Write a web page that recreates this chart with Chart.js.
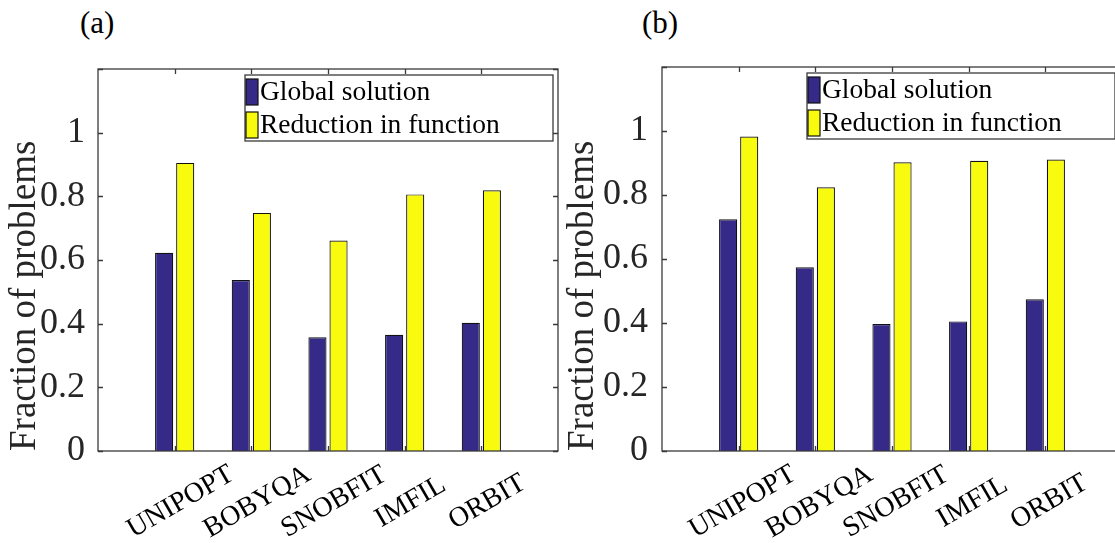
<!DOCTYPE html>
<html lang="en">
<head>
<meta charset="UTF-8">
<title>Fraction of problems</title>
<script src="https://cdn.jsdelivr.net/npm/chart.js"></script>
<style>
  html, body { margin: 0; padding: 0; background: #fff; }
  body { width: 1115px; height: 543px; overflow: hidden; position: relative; }
  .panel { position: absolute; top: 0; }
  .tag { position: absolute; top: 5px; font: 31px "Liberation Serif", serif; color: #000; }
</style>
</head>
<body>
<div class="tag" style="left:80px;">(a)</div>
<div class="tag" style="left:642px;">(b)</div>
<div class="panel" style="left:0px;"><canvas id="chartA" width="560" height="543"></canvas></div>
<div class="panel" style="left:560px;"><canvas id="chartB" width="564" height="543"></canvas></div>

<script>
// data
const categories = ['UNIPOPT', 'BOBYQA', 'SNOBFIT', 'IMFIL', 'ORBIT'];
const seriesNames = ['Global solution', 'Reduction in function'];
const globalA = [0.623, 0.537, 0.357, 0.365, 0.403];
const reductionA = [0.905, 0.748, 0.661, 0.806, 0.819];
const globalB = [0.724, 0.574, 0.397, 0.405, 0.474];
const reductionB = [0.983, 0.824, 0.902, 0.907, 0.911];
const yTicks = [0, 0.2, 0.4, 0.6, 0.8, 1, 1.2];

const serif = '"Liberation Serif", "Times New Roman", serif';
const blue = '#352A87';
const yellow = '#F9FB0E';
const axisColor = '#3a3a3a';

// empty slot on each side so bars sit at 1..5 on a 0..6 axis (like MATLAB)
const labels = [''].concat(categories, ['']);
const pad = arr => [null].concat(arr, [null]);

function framePlugin(cfg) {
    return {
        id: 'frame',
        afterDatasetsDraw(chart) {
            const { ctx, chartArea: a, scales } = chart;
            ctx.save();
            ctx.strokeStyle = axisColor;
            ctx.lineWidth = 1.3;
            ctx.strokeRect(a.left, a.top, a.right - a.left, a.bottom - a.top);
            ctx.beginPath();
            yTicks.forEach(v => {
                const y = Math.round(scales.y.getPixelForValue(v)) + 0.5;
                ctx.moveTo(a.left, y); ctx.lineTo(a.left + 5, y);
                ctx.moveTo(a.right, y); ctx.lineTo(a.right - 5, y);
            });
            categories.forEach((c, i) => {
                const x = Math.round(scales.x.getPixelForValue(i + 1)) + 0.5;
                ctx.moveTo(x, a.top); ctx.lineTo(x, a.top + 5);
                ctx.moveTo(x, a.bottom); ctx.lineTo(x, a.bottom - 5);
            });
            ctx.stroke();

            // rotated category names
            ctx.fillStyle = '#000';
            ctx.font = '28px ' + serif;
            ctx.textAlign = 'center';
            ctx.textBaseline = 'middle';
            categories.forEach((c, i) => {
                const x = scales.x.getPixelForValue(i + 1) + cfg.labelShift;
                ctx.save();
                ctx.translate(x, a.bottom + 51);
                ctx.rotate(-30 * Math.PI / 180);
                ctx.fillText(c, 0, 0);
                ctx.restore();
            });

            // legend box inside the axes
            const lx = a.left + cfg.legendLeft, ly = a.top + 6;
            const lw = 308, lh = 66;
            ctx.fillStyle = '#fff';
            ctx.fillRect(lx, ly, lw, lh);
            ctx.strokeStyle = axisColor;
            ctx.lineWidth = 1.3;
            ctx.strokeRect(lx, ly, lw, lh);
            const colors = [blue, yellow];
            ctx.font = '27.5px ' + serif;
            ctx.textAlign = 'left';
            seriesNames.forEach((name, i) => {
                const sy = ly + 4 + i * 33;
                ctx.fillStyle = colors[i];
                ctx.fillRect(lx + 1, sy, 12, 26);
                ctx.strokeStyle = '#111';
                ctx.lineWidth = 1.2;
                ctx.strokeRect(lx + 1, sy, 12, 26);
                ctx.fillStyle = '#000';
                ctx.fillText(name, lx + 15, sy + 14);
            });
            ctx.restore();
        }
    };
}

function makePanel(id, globalVals, reductionVals, cfg) {
    const ctx = document.getElementById(id).getContext('2d');
    return new Chart(ctx, {
        type: 'bar',
        data: {
            labels: labels,
            datasets: [
                { label: seriesNames[0], data: pad(globalVals), backgroundColor: blue,
                  borderColor: '#111', borderWidth: 1.2 },
                { label: seriesNames[1], data: pad(reductionVals), backgroundColor: yellow,
                  borderColor: '#111', borderWidth: 1.2 }
            ]
        },
        options: {
            responsive: false,
            animation: false,
            devicePixelRatio: 1,
            layout: { padding: { top: cfg.top, right: 2, left: 0, bottom: 0 } },
            datasets: { bar: { categoryPercentage: 0.55, barPercentage: 0.86 } },
            plugins: { legend: { display: false }, tooltip: { enabled: false } },
            scales: {
                x: {
                    type: 'category',
                    offset: false,
                    grid: { display: false, drawTicks: false },
                    border: { display: false },
                    ticks: { display: false },
                    afterFit: s => { s.height = 543 - cfg.bottom; }
                },
                y: {
                    min: 0,
                    max: 1.2,
                    grid: { display: false, drawTicks: false },
                    border: { display: false },
                    ticks: {
                        stepSize: 0.2,
                        padding: cfg.tickPad,
                        color: '#262626',
                        font: { family: serif, size: 36 },
                        callback: v => v > 1.1 ? '' : String(Number(v.toFixed(1)))
                    },
                    title: {
                        display: true,
                        text: 'Fraction of problems',
                        align: 'start',
                        color: '#262626',
                        font: { family: serif, size: 37 },
                        padding: { top: cfg.titlePad, bottom: 0 }
                    },
                    afterFit: s => { s.width = cfg.axisLeft; }
                }
            }
        },
        plugins: [framePlugin(cfg)]
    });
}

makePanel('chartA', globalA, reductionA,
    { top: 69, bottom: 451, axisLeft: 98, tickPad: 13, titlePad: 3, legendLeft: 147, labelShift: 6 });
makePanel('chartB', globalB, reductionB,
    { top: 67, bottom: 451, axisLeft: 102, tickPad: 14, titlePad: 1, legendLeft: 145, labelShift: 4 });
</script>
</body>
</html>
